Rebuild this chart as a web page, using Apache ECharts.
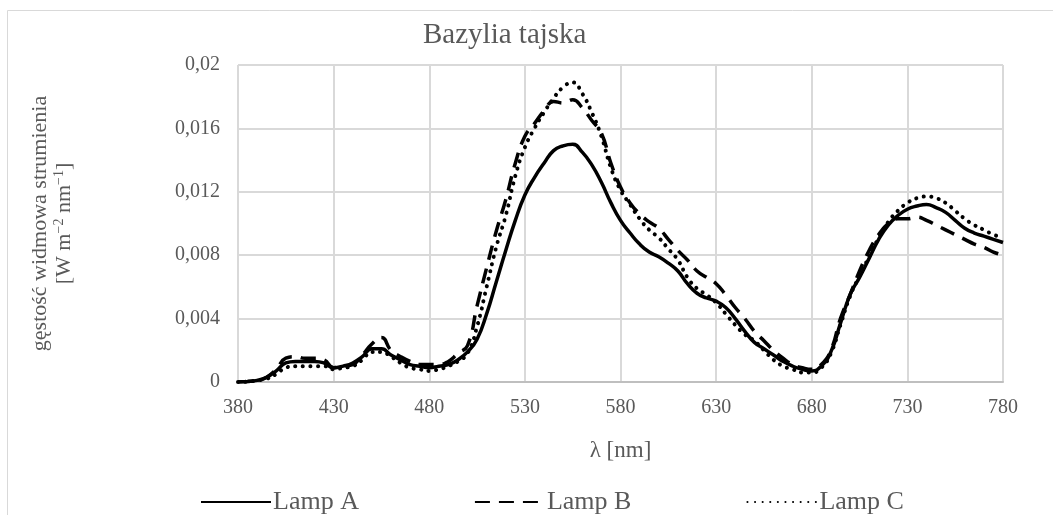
<!DOCTYPE html>
<html>
<head>
<meta charset="utf-8">
<script src="https://cdn.jsdelivr.net/npm/echarts@6/dist/echarts.min.js"></script>
<style>
  html, body { margin: 0; padding: 0; background: #fff; }
  #chart { width: 1053px; height: 515px; }
</style>
</head>
<body>
<div id="chart"></div>
<script>
// wavelengths, nm (step 5)
const wavelengths = [
  380, 385, 390, 395, 400, 405, 410, 415, 420, 425,
  430, 435, 440, 445, 450, 455, 460, 465, 470, 475,
  480, 485, 490, 495, 500, 505, 510, 515, 520, 525,
  530, 535, 540, 545, 550, 555, 560, 565, 570, 575,
  580, 585, 590, 595, 600, 605, 610, 615, 620, 625,
  630, 635, 640, 645, 650, 655, 660, 665, 670, 675,
  680, 685, 690, 695, 700, 705, 710, 715, 720, 725,
  730, 735, 740, 745, 750, 755, 760, 765, 770, 775,
  780
];

const lampA = [
  0.0000, 0.00003, 0.0001, 0.0003, 0.0007, 0.0012, 0.0013, 0.0013, 0.0013, 0.0012,
  0.0009, 0.0010, 0.0012, 0.0016, 0.0021, 0.0021, 0.0017, 0.0014, 0.0011, 0.0010,
  0.0009, 0.0010, 0.0011, 0.0014, 0.0019, 0.0027, 0.0043, 0.0063, 0.0083, 0.0102,
  0.0118, 0.0129, 0.0138, 0.0146, 0.0149, 0.0150, 0.0145, 0.0137, 0.0126, 0.0113,
  0.0102, 0.0094, 0.0087, 0.0082, 0.0079, 0.0075, 0.0070, 0.0062, 0.0056, 0.0053,
  0.0051, 0.0047, 0.0040, 0.0032, 0.0025, 0.0021, 0.0017, 0.0013, 0.0010, 0.0008,
  0.0007, 0.0010, 0.0019, 0.0037, 0.0055, 0.0066, 0.0078, 0.0090, 0.0099, 0.0105,
  0.0109, 0.0111, 0.0112, 0.0110, 0.0107, 0.0102, 0.0097, 0.0094, 0.0092, 0.0090,
  0.0088
];

const lampB = [
  0.0000, 0.00003, 0.0001, 0.0003, 0.0008, 0.0015, 0.0016, 0.0015, 0.0015, 0.0014,
  0.0009, 0.0010, 0.0011, 0.0017, 0.0024, 0.0028, 0.0020, 0.0016, 0.0013, 0.0011,
  0.0011, 0.0011, 0.0013, 0.0018, 0.0023, 0.0048, 0.0072, 0.0095, 0.0115, 0.0138,
  0.0155, 0.0163, 0.0171, 0.0177, 0.0176, 0.0178, 0.0173, 0.0165, 0.0157, 0.0138,
  0.0123, 0.0113, 0.0106, 0.0101, 0.0097, 0.0090, 0.0083, 0.0077, 0.0070, 0.0066,
  0.0062, 0.0055, 0.0047, 0.0040, 0.0032, 0.0026, 0.0020, 0.0015, 0.0011, 0.0009,
  0.0008, 0.0011, 0.0020, 0.0040, 0.0055, 0.0070, 0.0083, 0.0093, 0.0100, 0.0103,
  0.0103, 0.0104, 0.0102, 0.0099, 0.0096, 0.0093, 0.0090, 0.0087, 0.0085, 0.0082,
  0.0080
];

const lampC = [
  0.0000, 0.00002, 0.0001, 0.0002, 0.0005, 0.0009, 0.0010, 0.0010, 0.0010, 0.0010,
  0.0008, 0.0009, 0.0010, 0.0014, 0.0019, 0.0019, 0.0016, 0.0012, 0.0009, 0.0008,
  0.0007, 0.0008, 0.0010, 0.0013, 0.0018, 0.0035, 0.0060, 0.0085, 0.0105, 0.0130,
  0.0148, 0.0160, 0.0170, 0.0179, 0.0186, 0.0189, 0.0182, 0.0170, 0.0155, 0.0135,
  0.0121, 0.0112, 0.0103, 0.0096, 0.0091, 0.0084, 0.0077, 0.0066, 0.0059, 0.0055,
  0.0050, 0.0043, 0.0036, 0.0030, 0.0026, 0.0020, 0.0014, 0.0010, 0.0008, 0.0006,
  0.0006, 0.0009, 0.0018, 0.0036, 0.0054, 0.0067, 0.0079, 0.0091, 0.0101, 0.0108,
  0.0113, 0.0116, 0.0117, 0.0116, 0.0113, 0.0108, 0.0103, 0.0099, 0.0096, 0.0093,
  0.0091
];

const FONT = "Liberation Serif";
const TXT = "#595959";
const GRID = "#d9d9d9";

const chart = echarts.init(document.getElementById("chart"));

function lineSeries(name, data, type, width, round) {
  return {
    name: name,
    type: "line",
    data: data,
    smooth: true,
    symbol: "none",
    lineStyle: { color: "#000", width: width, type: type, cap: round ? "round" : "butt" },
    itemStyle: { color: "#000" },
  };
}

chart.setOption({
  animation: false,
  title: {
    text: "Bazylia tajska",
    left: 423,
    top: 21,
    padding: 0,
    textStyle: { fontFamily: FONT, fontSize: 29, fontWeight: "normal", color: TXT },
  },
  graphic: [
    {
      type: "rect",
      shape: { x: 7.5, y: 10.5, width: 1100, height: 600 },
      style: { fill: "none", stroke: GRID, lineWidth: 1 },
      silent: true,
    },
  ],
  legend: {
    left: 195,
    top: 484,
    itemWidth: 70,
    itemHeight: 14,
    itemGap: 115,
    itemStyle: { opacity: 0 },
    textStyle: { fontFamily: FONT, fontSize: 26, color: TXT, padding: [0, 0, 0, -3] },
    data: ["Lamp A", "Lamp B", "Lamp C"],
  },
  grid: { left: 238, right: 50, top: 65, bottom: 133, containLabel: false },
  xAxis: {
    type: "category",
    data: wavelengths,
    boundaryGap: false,
    name: "λ [nm]",
    nameLocation: "middle",
    nameGap: 57,
    nameTextStyle: { fontFamily: FONT, fontSize: 23, color: TXT },
    axisLine: { lineStyle: { color: "#bfbfbf", width: 2 } },
    axisTick: { show: false },
    axisLabel: { interval: 9, margin: 16, fontFamily: FONT, fontSize: 20, color: TXT },
    splitLine: { show: true, interval: 9, lineStyle: { color: GRID, width: 2 } },
  },
  yAxis: {
    type: "value",
    min: 0,
    max: 0.02,
    interval: 0.004,
    name: "{a|gęstość widmowa strumienia}\n{a|[W m}{s|−2}{a| nm}{s|−1}{a|]}",
    nameLocation: "middle",
    nameRotate: 90,
    nameGap: 162,
    nameTextStyle: {
      fontFamily: FONT,
      color: TXT,
      rich: {
        a: { fontFamily: FONT, fontSize: 22, color: TXT, lineHeight: 24 },
        s: { fontFamily: FONT, fontSize: 14, color: TXT, lineHeight: 14, verticalAlign: "top" },
      },
    },
    axisLine: { show: false },
    axisTick: { show: false },
    axisLabel: {
      margin: 18,
      fontFamily: FONT,
      fontSize: 20,
      color: TXT,
      formatter: function (v) {
        return v === 0 ? "0" : String(parseFloat(v.toFixed(3))).replace(".", ",");
      },
    },
    splitLine: { lineStyle: { color: GRID, width: 2 } },
  },
  series: [
    lineSeries("Lamp A", lampA, "solid", 3.5, false),
    lineSeries("Lamp B", lampB, [15, 9], 3.5, false),
    lineSeries("Lamp C", lampC, [0.1, 7.5], 4, true),
  ],
});
</script>
</body>
</html>
